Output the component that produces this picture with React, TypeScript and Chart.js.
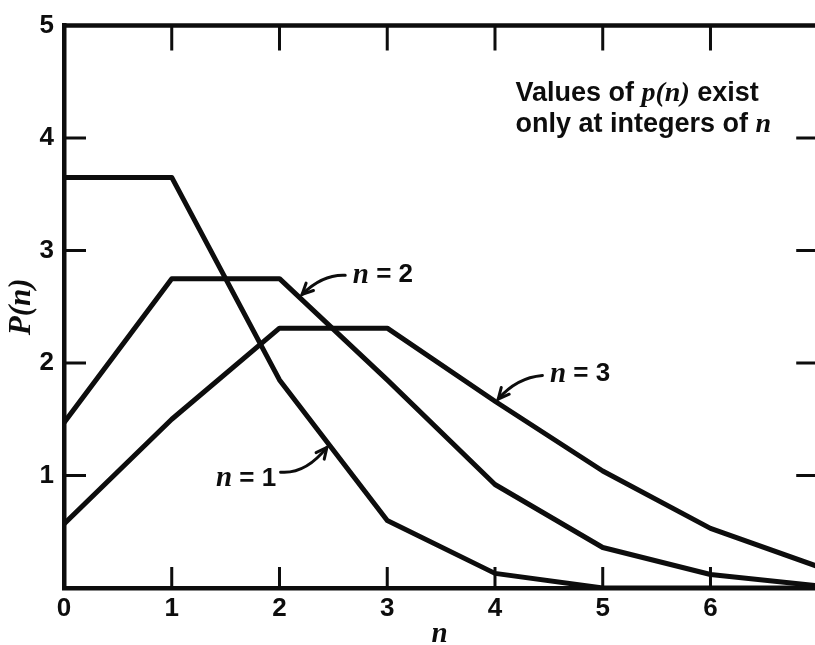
import React, { useEffect, useRef } from "react";
import { Chart, registerables } from "chart.js";

Chart.register(...registerables);

// ---- data ----
const nValues = [0, 1, 2, 3, 4, 5, 6, 7];
const seriesN1 = [3.65, 3.65, 1.85, 0.6, 0.13, 0, 0, 0];
const seriesN2 = [1.47, 2.75, 2.75, 1.85, 0.92, 0.36, 0.12, 0.02];
const seriesN3 = [0.57, 1.5, 2.31, 2.31, 1.66, 1.04, 0.53, 0.19];
const xTickValues = [0, 1, 2, 3, 4, 5, 6];
const yTickValues = [0, 1, 2, 3, 4, 5];
const yTickLabels = ["", "1", "2", "3", "4", "5"];
const innerTickX = [1, 2, 3, 4, 5, 6];
const innerTickY = [1, 2, 3, 4];

const INK = "#0d0d0d";
const SANS_TICK = { family: "'Liberation Sans', Arial, sans-serif", size: 26, weight: "bold" as const };
const F_SANS_LABEL = "bold 26px 'Liberation Sans', Arial, sans-serif";
const F_SERIF_IT = "italic bold 29px 'Liberation Serif', serif";
const F_NOTE = "bold 27px 'Liberation Sans Narrow', 'Liberation Sans', sans-serif";
const F_NOTE_IT = "italic bold 28px 'Liberation Serif', serif";

// curve labels with arrows, positions in data units
const curveNotes = [
  { segs: [["n", F_SERIF_IT], [" = 1", F_SANS_LABEL]], x: 1.69, y: 0.97, tail: [2.01, 1.03], ctrl: [2.24, 1.01], tip: [2.44, 1.25] },
  { segs: [["n", F_SERIF_IT], [" = 2", F_SANS_LABEL]], x: 2.96, y: 2.78, tail: [2.61, 2.78], ctrl: [2.4, 2.79], tip: [2.21, 2.61] },
  { segs: [["n", F_SERIF_IT], [" = 3", F_SANS_LABEL]], x: 4.79, y: 1.9, tail: [4.44, 1.89], ctrl: [4.2, 1.87], tip: [4.03, 1.68] },
];

const boxNote = {
  x: 4.19,
  lines: [
    { y: 4.33, segs: [["Values of ", F_NOTE], ["p(n)", F_NOTE_IT], [" exist", F_NOTE]] },
    { y: 4.05, segs: [["only at integers of ", F_NOTE], ["n", F_NOTE_IT]] },
  ],
};

function drawSegs(ctx: CanvasRenderingContext2D, segs: any[], x: number, y: number, center: boolean) {
  const widths = segs.map((s) => {
    ctx.font = s[1];
    return ctx.measureText(s[0]).width;
  });
  const total = widths.reduce((a, b) => a + b, 0);
  let cx = center ? x - total / 2 : x;
  segs.forEach((s, i) => {
    ctx.font = s[1];
    ctx.fillText(s[0], cx, y);
    cx += widths[i];
  });
}

const framePlugin = {
  id: "frameAndNotes",
  afterDraw(chart: any) {
    const { ctx, chartArea, scales } = chart;
    const xs = scales.x;
    const ys = scales.y;
    ctx.save();
    ctx.strokeStyle = INK;
    ctx.fillStyle = INK;
    // top frame line
    ctx.lineWidth = 4.5;
    ctx.beginPath();
    ctx.moveTo(chartArea.left - 2, chartArea.top);
    ctx.lineTo(chartArea.right + 4, chartArea.top);
    ctx.stroke();
    // inward ticks
    ctx.lineWidth = 3;
    ctx.lineCap = "butt";
    innerTickX.forEach((v) => {
      const px = xs.getPixelForValue(v);
      ctx.beginPath();
      ctx.moveTo(px, chartArea.bottom);
      ctx.lineTo(px, chartArea.bottom - 21);
      ctx.moveTo(px, chartArea.top);
      ctx.lineTo(px, chartArea.top + 25);
      ctx.stroke();
    });
    const rightPx = xs.getPixelForValue(7);
    innerTickY.forEach((v) => {
      const py = ys.getPixelForValue(v);
      ctx.beginPath();
      ctx.moveTo(chartArea.left, py);
      ctx.lineTo(chartArea.left + 22, py);
      ctx.moveTo(rightPx, py);
      ctx.lineTo(rightPx - 22, py);
      ctx.stroke();
    });
    // curve labels and arrows
    ctx.textBaseline = "middle";
    curveNotes.forEach((n) => {
      drawSegs(ctx, n.segs, xs.getPixelForValue(n.x), ys.getPixelForValue(n.y), true);
      const tx = xs.getPixelForValue(n.tail[0]);
      const ty = ys.getPixelForValue(n.tail[1]);
      const cx = xs.getPixelForValue(n.ctrl[0]);
      const cy = ys.getPixelForValue(n.ctrl[1]);
      const hx = xs.getPixelForValue(n.tip[0]);
      const hy = ys.getPixelForValue(n.tip[1]);
      ctx.lineWidth = 3;
      ctx.lineCap = "round";
      ctx.beginPath();
      ctx.moveTo(tx, ty);
      ctx.quadraticCurveTo(cx, cy, hx, hy);
      ctx.stroke();
      const ang = Math.atan2(hy - cy, hx - cx);
      const L = 12;
      ctx.beginPath();
      ctx.moveTo(hx - L * Math.cos(ang - 0.45), hy - L * Math.sin(ang - 0.45));
      ctx.lineTo(hx, hy);
      ctx.lineTo(hx - L * Math.cos(ang + 0.45), hy - L * Math.sin(ang + 0.45));
      ctx.stroke();
    });
    // boxed note
    ctx.textBaseline = "alphabetic";
    boxNote.lines.forEach((ln) => {
      drawSegs(ctx, ln.segs, xs.getPixelForValue(boxNote.x), ys.getPixelForValue(ln.y), false);
    });
    ctx.restore();
  },
};

export default function App() {
  const ref = useRef<HTMLCanvasElement | null>(null);
  useEffect(() => {
    if (!ref.current) return;
    const mk = (vals: number[]) => vals.map((v, i) => ({ x: nValues[i], y: v }));
    const ds = (label: string, vals: number[]) => ({
      label,
      data: mk(vals),
      borderColor: INK,
      borderWidth: 5,
      pointRadius: 0,
      tension: 0,
      fill: false,
      borderJoinStyle: "round" as const,
    });
    const chart = new Chart(ref.current, {
      type: "line",
      data: {
        datasets: [ds("n = 1", seriesN1), ds("n = 2", seriesN2), ds("n = 3", seriesN3)],
      },
      options: {
        animation: false,
        responsive: false,
        devicePixelRatio: 1,
        layout: { padding: { top: 22, right: 0, left: 0, bottom: 0 } },
        plugins: { legend: { display: false }, tooltip: { enabled: false }, title: { display: false } },
        scales: {
          x: {
            type: "linear",
            min: 0,
            max: 6.97,
            afterBuildTicks: (s: any) => {
              s.ticks = xTickValues.map((v) => ({ value: v }));
            },
            ticks: { font: SANS_TICK, color: INK, padding: 5, maxRotation: 0, autoSkip: false, callback: (v: any) => String(v) },
            grid: { display: false, drawTicks: false },
            border: { display: true, width: 4.5, color: INK },
            title: {
              display: true,
              text: "n",
              color: INK,
              font: { family: "'Liberation Serif', serif", style: "italic", weight: "bold", size: 29, lineHeight: 1 },
              padding: { top: 0, bottom: -4 },
            },
            afterFit: (s: any) => {
              s.height = 57;
            },
          },
          y: {
            type: "linear",
            min: 0,
            max: 5,
            afterBuildTicks: (s: any) => {
              s.ticks = yTickValues.map((v) => ({ value: v }));
            },
            ticks: { font: SANS_TICK, color: INK, padding: 10, autoSkip: false, callback: (v: any) => yTickLabels[Math.round(Number(v))] },
            grid: { display: false, drawTicks: false },
            border: { display: true, width: 4.5, color: INK },
            title: {
              display: true,
              text: "P(n)",
              color: INK,
              font: { family: "'Liberation Serif', serif", style: "italic", weight: "bold", size: 31, lineHeight: 1 },
              padding: { top: 6, bottom: 0 },
            },
            afterFit: (s: any) => {
              s.width = 64;
            },
          },
        },
      } as any,
      plugins: [framePlugin],
    });
    return () => chart.destroy();
  }, []);
  return (
    <div style={{ position: "absolute", left: 0, top: 0, width: 815, height: 645, background: "#fff" }}>
      <canvas ref={ref} width={815} height={645} style={{ display: "block" }} />
    </div>
  );
}
